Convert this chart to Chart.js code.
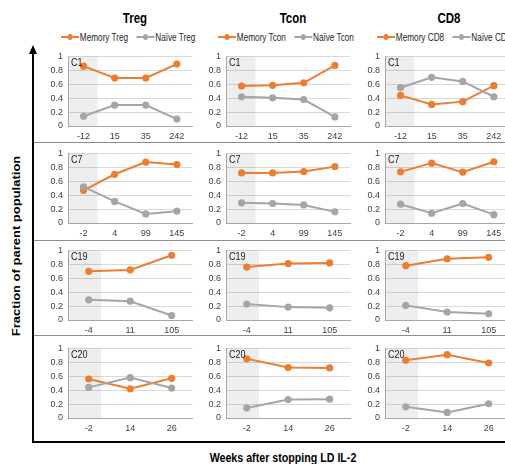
<!DOCTYPE html>
<html>
<head>
<meta charset="utf-8">
<title>Memory vs naive fractions after LD IL-2</title>
<script src="https://cdn.jsdelivr.net/npm/chart.js@4.4.1/dist/chart.umd.min.js"></script>
<style>
  html, body { margin: 0; padding: 0; background: #fff; }
  body { width: 505px; height: 464px; position: relative; overflow: hidden;
         font-family: 'Liberation Sans', Arial, sans-serif; color: #000; }
  canvas { position: absolute; }
  .col-title { position: absolute; top: 10px; font-size: 14px; font-weight: bold; white-space: nowrap;
               transform: translateX(-50%) scaleX(0.82); }
  .legend { position: absolute; top: 32px; height: 12px; line-height: 12px; font-size: 10px; color: #262626;
            white-space: nowrap; transform-origin: 0 50%; transform: scaleX(0.82); }
  .legend .item { display: inline-block; margin-right: 10px; }
  .legend .mk { display: inline-block; position: relative; width: 22px; height: 2px; vertical-align: middle;
                margin-right: 1px; top: -1px; }
  .legend .mk::after { content: ''; position: absolute; left: 8px; top: -2px; width: 6px; height: 6px;
                       border-radius: 50%; background: inherit; }
  .rule { position: absolute; left: 34px; width: 471px; height: 1px; background: #8c8c8c; }
  .axis-title { position: absolute; font-size: 13px; font-weight: bold; white-space: nowrap; }
</style>
</head>
<body>

<script>
// ---- data ----
var cellTypes = ['Treg', 'Tcon', 'CD8'];
var patients  = ['C1', 'C7', 'C19', 'C20'];

var weeksC1  = ['-12', '15', '35', '242'];
var weeksC7  = ['-2', '4', '99', '145'];
var weeksC19 = ['-4', '11', '105'];
var weeksC20 = ['-2', '14', '26'];

// one inner array per cell type: Treg, Tcon, CD8
var memoryC1  = [[0.86, 0.69, 0.69, 0.89], [0.575, 0.585, 0.62, 0.87], [0.44, 0.31, 0.35, 0.58]];
var naiveC1   = [[0.14, 0.30, 0.30, 0.10], [0.42, 0.405, 0.38, 0.13], [0.55, 0.70, 0.64, 0.42]];
var memoryC7  = [[0.47, 0.70, 0.875, 0.84], [0.72, 0.72, 0.74, 0.81], [0.735, 0.86, 0.73, 0.88]];
var naiveC7   = [[0.52, 0.31, 0.13, 0.17], [0.29, 0.28, 0.26, 0.16], [0.27, 0.14, 0.28, 0.12]];
var memoryC19 = [[0.70, 0.72, 0.93], [0.76, 0.81, 0.82], [0.78, 0.88, 0.90]];
var naiveC19  = [[0.29, 0.27, 0.065], [0.23, 0.185, 0.175], [0.21, 0.115, 0.09]];
var memoryC20 = [[0.56, 0.42, 0.57], [0.85, 0.725, 0.72], [0.83, 0.91, 0.79]];
var naiveC20  = [[0.44, 0.58, 0.43], [0.145, 0.265, 0.27], [0.16, 0.08, 0.205]];

// baseline (pre-stop) band, in category units from the first point
var baselineEnd = [0.45, 0.45, 0.3, 0.3];

var yTicks = [0, 0.2, 0.4, 0.6, 0.8, 1];

// ---- layout ----
var ORANGE = '#ED7D31';
var GREY   = '#A5A5A5';
var FONT   = "'Liberation Sans', Arial, sans-serif";

var colLeft  = [38, 196, 355];      // canvas left per column
var rowTop   = [46, 143, 240, 338]; // canvas top per row
var canvasW  = 159, canvasH = 98;
var titleX   = [135, 293, 449];
var legendX  = [61, 218, 377];

var rowWeeks  = [weeksC1, weeksC7, weeksC19, weeksC20];
var rowMemory = [memoryC1, memoryC7, memoryC19, memoryC20];
var rowNaive  = [naiveC1, naiveC7, naiveC19, naiveC20];

function addDiv(cls, style, text) {
  var d = document.createElement('div');
  if (cls) d.className = cls;
  d.setAttribute('style', style);
  if (text) d.textContent = text;
  document.body.appendChild(d);
  return d;
}

// outer axes + row separators
addDiv('', 'position:absolute;left:32px;top:52px;width:2px;height:391px;background:#000');
addDiv('', 'position:absolute;left:29px;top:45px;width:0;height:0;border-left:4px solid transparent;border-right:4px solid transparent;border-bottom:9px solid #000');
addDiv('', 'position:absolute;left:32px;top:441px;width:473px;height:2px;background:#000');
[142, 240, 335].forEach(function(y) { addDiv('rule', 'top:' + y + 'px'); });

addDiv('axis-title', 'left:16px;top:246px;transform:translate(-50%,-50%) rotate(-90deg) scaleY(0.82)', 'Fraction of parent population');
addDiv('axis-title', 'left:283px;top:450px;transform:translateX(-50%) scaleX(0.82)', 'Weeks after stopping LD IL-2');

// column titles + legends
cellTypes.forEach(function(t, c) {
  addDiv('col-title', 'left:' + titleX[c] + 'px', t);
  var lg = addDiv('legend', 'left:' + legendX[c] + 'px');
  lg.innerHTML =
    '<span class="item"><i class="mk" style="background:' + ORANGE + '"></i>Memory ' + t + '</span>' +
    '<span class="item"><i class="mk" style="background:' + GREY + '"></i>Naïve ' + t + '</span>';
});

var baselineShade = {
  id: 'baselineShade',
  beforeDatasetsDraw: function(chart, args, opts) {
    var a = chart.chartArea, x = chart.scales.x, ctx = chart.ctx;
    var right = x.getPixelForValue(opts.end);
    ctx.save();
    ctx.fillStyle = 'rgba(0,0,0,0.065)';
    ctx.fillRect(a.left + 1, a.top, right - a.left - 1, a.bottom - a.top);
    ctx.restore();
  }
};

var panelLabel = {
  id: 'panelLabel',
  afterDatasetsDraw: function(chart, args, opts) {
    var a = chart.chartArea, ctx = chart.ctx;
    ctx.save();
    ctx.translate(a.left + 3, a.top + 1);
    ctx.scale(0.82, 1);
    ctx.font = '11px ' + FONT;
    ctx.fillStyle = '#1a1a1a';
    ctx.textBaseline = 'top';
    ctx.fillText(opts.text, 0, 0);
    ctx.restore();
  }
};

function makePanel(r, c) {
  var cv = document.createElement('canvas');
  cv.width = canvasW;
  cv.height = canvasH;
  cv.style.left = colLeft[c] + 'px';
  cv.style.top = rowTop[r] + 'px';
  cv.style.width = canvasW + 'px';
  cv.style.height = canvasH + 'px';
  document.body.appendChild(cv);

  var line = function(label, data, color) {
    return { label: label, data: data, borderColor: color, backgroundColor: color,
             pointBackgroundColor: color, pointBorderColor: color, borderWidth: 2,
             pointRadius: 2.6, pointHoverRadius: 2.6, tension: 0, clip: false };
  };

  new Chart(cv.getContext('2d'), {
    type: 'line',
    data: {
      labels: rowWeeks[r],
      datasets: [
        line('Naïve ' + cellTypes[c], rowNaive[r][c], GREY),
        line('Memory ' + cellTypes[c], rowMemory[r][c], ORANGE)
      ]
    },
    options: {
      responsive: false, maintainAspectRatio: false, animation: false, devicePixelRatio: 1, events: [],
      layout: { padding: { top: 8, left: 0, right: 0, bottom: 0 } },
      plugins: {
        legend: { display: false }, tooltip: { enabled: false },
        baselineShade: { end: baselineEnd[r] },
        panelLabel: { text: patients[r] }
      },
      scales: {
        x: {
          offset: true,
          grid: { display: false, drawTicks: false },
          border: { color: '#a6a6a6', width: 1 },
          ticks: { color: '#404040', font: { family: FONT, size: 9 }, padding: 5, maxRotation: 0, autoSkip: false },
          afterFit: function(s) { s.height = 18; }
        },
        y: {
          min: 0, max: 1,
          afterBuildTicks: function(s) { s.ticks = yTicks.map(function(v) { return { value: v }; }); },
          grid: { color: '#d9d9d9', drawTicks: false },
          border: { color: '#a6a6a6', width: 1 },
          ticks: { color: '#404040', font: { family: FONT, size: 9 }, padding: 5,
                   callback: function(v) { return String(Math.round(v * 10) / 10); } },
          afterFit: function(s) { s.width = 30; }
        }
      }
    },
    plugins: [baselineShade, panelLabel]
  });
}

for (var r = 0; r < patients.length; r++) {
  for (var c = 0; c < cellTypes.length; c++) makePanel(r, c);
}
</script>
</body>
</html>
